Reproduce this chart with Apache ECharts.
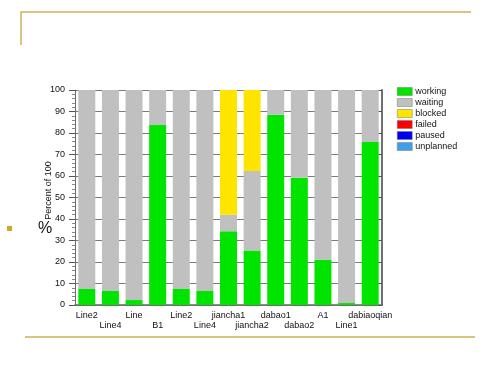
<!DOCTYPE html>
<html>
<head>
<meta charset="utf-8">
<script src="https://cdn.jsdelivr.net/npm/echarts@6/dist/echarts.min.js"></script>
<style>
html,body{margin:0;padding:0;background:#fff;}
#chart{width:500px;height:375px;}
</style>
</head>
<body>
<div id="chart"></div>
<script>
var categories = ['Line2','Line4','Line','B1','Line2','Line4','jiancha1','jiancha2','dabao1','dabao2','A1','Line1','dabiaoqian'];
var working   = [7.5, 6.5, 2.3, 83.7, 7.5, 6.5, 34.3, 25.3, 88.4, 59.2, 21.1, 0.9, 75.8];
var waiting   = [92.5, 93.5, 97.7, 16.3, 92.5, 93.5, 7.7, 37.0, 11.6, 40.8, 78.9, 99.1, 24.2];
var blocked   = [0, 0, 0, 0, 0, 0, 58.0, 37.7, 0, 0, 0, 0, 0];
var failed    = [0, 0, 0, 0, 0, 0, 0, 0, 0, 0, 0, 0, 0];
var paused    = [0, 0, 0, 0, 0, 0, 0, 0, 0, 0, 0, 0, 0];
var unplanned = [0, 0, 0, 0, 0, 0, 0, 0, 0, 0, 0, 0, 0];
var yTicks = [0, 10, 20, 30, 40, 50, 60, 70, 80, 90, 100];
var seriesNames = ['working','waiting','blocked','failed','paused','unplanned'];
var seriesColors = ['#00E400','#C0C0C0','#FFE400','#FF0000','#0000F0','#3FA0E8'];
var seriesData = [working, waiting, blocked, failed, paused, unplanned];

var chart = echarts.init(document.getElementById('chart'), null, {renderer:'canvas'});
var font = 'Liberation Sans, Arial, sans-serif';
var gold = '#CDB253';

var series = seriesNames.map(function(n, i){
  return {
    name: n, type: 'bar', stack: 'total', data: seriesData[i],
    barWidth: 17, itemStyle: {color: seriesColors[i]}, silent: true, animation: false
  };
});

chart.setOption({
  animation: false,
  grid: {left: 75, right: 118, top: 90, bottom: 70, containLabel: false},
  legend: {
    orient: 'vertical', left: 392, top: 82, itemWidth: 15, itemHeight: 8, itemGap: 2,
    icon: 'rect', data: seriesNames,
    itemStyle: {borderColor: '#777', borderWidth: 0.5},
    textStyle: {fontFamily: font, fontSize: 9, color: '#111', padding: [0,0,0,-2]}
  },
  xAxis: [{
    type: 'category', data: categories, position: 'bottom',
    axisLine: {lineStyle: {color: '#6a6a6a', width: 1.5}},
    axisTick: {alignWithLabel: true, length: 4, lineStyle: {color: '#555'}},
    axisLabel: {
      interval: 0, margin: 6, fontFamily: font, fontSize: 9, color: '#111', lineHeight: 10,
      formatter: function(v, i){ return i % 2 === 0 ? v : '\n' + v; }
    }
  }, {
    type: 'category', data: categories, position: 'top',
    axisLine: {show: false},
    axisTick: {inside: true, alignWithLabel: true, length: 4, lineStyle: {color: '#555'}},
    axisLabel: {show: false}
  }],
  yAxis: [{
    type: 'value', min: 0, max: 100, interval: 10, position: 'left',
    name: 'Percent of 100', nameLocation: 'middle', nameGap: 22, nameRotate: 90,
    nameMoveOverlap: false,
    nameTextStyle: {fontFamily: font, fontSize: 9, color: '#111', padding: [0,0,0,14]},
    axisLine: {show: true, lineStyle: {color: '#6a6a6a'}},
    axisTick: {show: true, length: 6, lineStyle: {color: '#555'}},
    minorTick: {show: true, splitNumber: 5, length: 3, lineStyle: {color: '#888'}},
    axisLabel: {margin: 10, fontFamily: font, fontSize: 9, color: '#111',
      formatter: function(v){ return yTicks.indexOf(v) >= 0 ? String(v) : ''; }},
    splitLine: {show: true, lineStyle: {color: '#7a7a7a', width: 1}}
  }, {
    type: 'value', min: 0, max: 100, interval: 10, position: 'right',
    axisLine: {show: true, lineStyle: {color: '#707070', width: 2}},
    axisTick: {show: true, inside: true, length: 4, lineStyle: {color: '#555'}},
    axisLabel: {show: false}, splitLine: {show: false}
  }],
  series: series,
  graphic: [
    {type: 'line', shape: {x1: 20.5, y1: 12, x2: 471, y2: 12}, style: {stroke: gold, lineWidth: 1.5}},
    {type: 'line', shape: {x1: 21, y1: 12, x2: 21, y2: 45}, style: {stroke: gold, lineWidth: 1.5}},
    {type: 'line', shape: {x1: 25, y1: 337, x2: 475, y2: 337}, style: {stroke: gold, lineWidth: 1.5}},
    {type: 'rect', shape: {x: 7, y: 226, width: 5, height: 5}, style: {fill: '#D4A52A'}},
    {type: 'text', left: 38, top: 221, style: {text: '%', font: '16px ' + font, fill: '#111'}}
  ]
});
</script>
</body>
</html>
